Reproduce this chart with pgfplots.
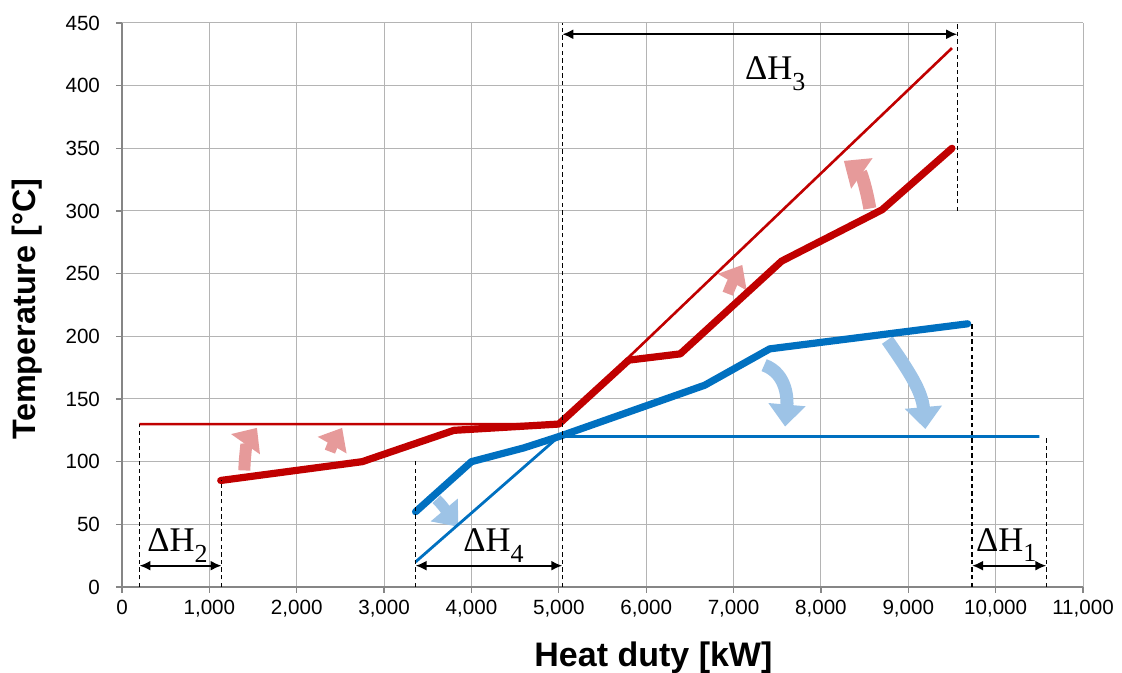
\documentclass[border=0pt]{standalone}
\usepackage{pgfplots}
\pgfplotsset{compat=1.18}
\usepackage{fontspec}
\setmainfont{Liberation Sans}
\newfontfamily\serif{Liberation Serif}
\usetikzlibrary{arrows.meta}
\definecolor{hot}{HTML}{C00000}
\definecolor{cold}{HTML}{0070C0}
\definecolor{hotl}{HTML}{E69A9A}
\definecolor{coldl}{HTML}{9DC3E6}
\definecolor{gridc}{HTML}{B4B4B4}
\definecolor{axc}{HTML}{868686}
\newcommand{\dH}[1]{{\serif\fontsize{17.3}{19}\selectfont ΔH\raisebox{-0.3em}{\fontsize{13}{14}\selectfont #1}}}
\begin{document}
\begin{tikzpicture}
\path[use as bounding box] (-61pt,-43pt) rectangle (500pt,293.5pt);
\begin{axis}[
  scale only axis, width=480.5pt, height=282pt,
  xmin=0, xmax=11000, ymin=0, ymax=450,
  xtick={0,1000,...,11000}, ytick={0,50,...,450},
  axis x line*=bottom, axis y line*=left,
  axis line style={-, axc, line width=0.6pt},
  grid=major, major grid style={gridc, line width=0.5pt},
  tick style={axc, line width=0.6pt},
  tick align=outside, major tick length=3pt,
  scaled x ticks=false,
  xticklabel style={/pgf/number format/1000 sep={,}},
  yticklabel style={xshift=-4.5pt},
  /pgf/number format/assume math mode=true,
  ticklabel style={font=\fontsize{10.3}{12}\selectfont},
  xlabel={Heat duty [kW]}, ylabel={Temperature [°C]},
  xlabel style={font=\bfseries\fontsize{17}{20}\selectfont, at={(axis description cs:0.553,-0.1418)}, anchor=base},
  ylabel style={font=\bfseries\fontsize{16.2}{20}\selectfont, at={(axis description cs:-0.0989,0.493)}, anchor=center},
  clip=false,
]
% curved block arrows
\begin{scope}[line cap=butt]
\draw[hotl, line width=6pt, -{Triangle[length=10pt,width=17pt]}] (axis cs:1400,93) to[out=88,in=235] (axis cs:1545,127);
\draw[hotl, line width=5.5pt, -{Triangle[length=10pt,width=16pt]}] (axis cs:2380,108) to[out=70,in=240] (axis cs:2520,127);
\draw[hotl, line width=5.5pt, -{Triangle[length=10pt,width=16pt]}] (axis cs:6934,234) to[out=70,in=240] (axis cs:7100,257);
\draw[hotl, line width=6.5pt, -{Triangle[length=11pt,width=18pt]}] (axis cs:8560,302) to[out=100,in=-35] (axis cs:8262,340);
\draw[coldl, line width=5.5pt, -{Triangle[length=11pt,width=17pt]}] (axis cs:3600,70) to[out=-45,in=130] (axis cs:3850,48);
\draw[coldl, line width=6.5pt, -{Triangle[length=11pt,width=18pt]}] (axis cs:7350,177) to[out=-20,in=85] (axis cs:7590,128);
\draw[coldl, line width=6.5pt, -{Triangle[length=11pt,width=18pt]}] (axis cs:8760,197) to[out=-55,in=95] (axis cs:9195,126);
\end{scope}
% composite curves
\addplot[hot, line width=1.3pt] coordinates {(200,130)(5000,130)(9500,430)};
\addplot[cold, line width=1.4pt] coordinates {(3360,20)(5000,120)(10500,120)};
\addplot[hot, line width=3.6pt, line cap=round, line join=round] coordinates {(1130,85)(2750,100)(3800,125)(5000,130)(5800,181)(6390,186)(7550,260)(8700,301)(9500,350)};
\addplot[cold, line width=3.6pt, line cap=round, line join=round] coordinates {(3360,60)(4000,100)(4600,111)(5000,120)(6670,161)(7414,190)(9680,210)};
% dashed guides
\begin{scope}[black, line width=0.6pt, dash pattern=on 2.2pt off 1.6pt]
\draw (axis cs:200,0) -- (axis cs:200,130);
\draw (axis cs:1140,0) -- (axis cs:1140,85);
\draw (axis cs:3360,0) -- (axis cs:3360,101);
\draw (axis cs:5040,0) -- (axis cs:5040,450);
\draw (axis cs:9560,300) -- (axis cs:9560,450);
\draw (axis cs:9730,0) -- (axis cs:9730,210);
\draw (axis cs:10580,0) -- (axis cs:10580,120);
\end{scope}
\begin{scope}[black, line width=1pt, {Latex[length=5.5pt,width=5pt]}-{Latex[length=5.5pt,width=5pt]}]
\draw (axis cs:200,17) -- (axis cs:1140,17);
\draw (axis cs:3360,17) -- (axis cs:5040,17);
\draw (axis cs:9730,17) -- (axis cs:10580,17);
\draw (axis cs:5040,441) -- (axis cs:9560,441);
\end{scope}
\node[anchor=base west, inner sep=0pt] at (axis cs:286,28) {\dH{2}};
\node[anchor=base west, inner sep=0pt] at (axis cs:3902,28) {\dH{4}};
\node[anchor=base west, inner sep=0pt] at (axis cs:9771,28.5) {\dH{1}};
\node[anchor=base west, inner sep=0pt] at (axis cs:7128,404.6) {\dH{3}};
\end{axis}
\end{tikzpicture}
\end{document}
